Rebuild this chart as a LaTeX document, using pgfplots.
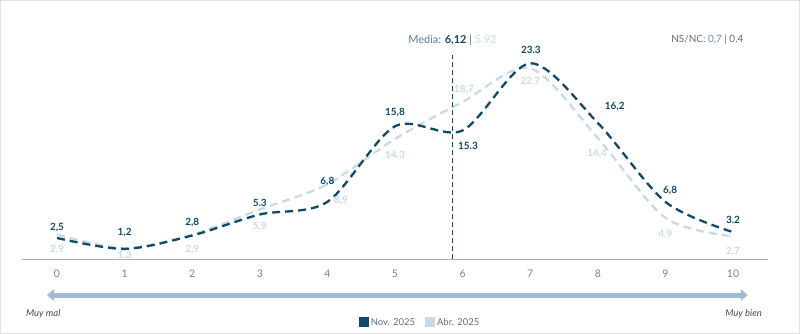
\documentclass[border=0pt]{standalone}
\usepackage{pgfplots}
\pgfplotsset{compat=1.18}
\usetikzlibrary{arrows.meta}
\usepackage{fontspec}
\setmainfont{Lato}
\definecolor{dark}{HTML}{0E4A6B}
\definecolor{light}{HTML}{C8DAE4}
\definecolor{tickgray}{HTML}{7D8190}
\definecolor{arrowblue}{HTML}{A3BAD3}
\definecolor{mediablue}{HTML}{5E7C96}
\definecolor{framegray}{HTML}{E2E2E2}
\definecolor{nsblue}{HTML}{5C8BB0}
\definecolor{txtgray}{HTML}{666A73}
\begin{document}
\begin{tikzpicture}
\useasboundingbox (-57bp,-75bp) rectangle (743bp,259bp);
\draw[framegray, line width=1bp] (-56.5bp,-74.5bp) rectangle (742.5bp,258.5bp);
\begin{axis}[
  at={(0,0)}, anchor=origin,
  x=67.6bp, y=8.4bp,
  xmin=-0.52, xmax=10.52, ymin=0, ymax=27,
  axis x line=bottom, axis y line=none,
  x axis line style={-, draw=black!32, line width=1bp},
  xtick={0,1,2,3,4,5,6,7,8,9,10},
  major tick length=0pt,
  xticklabel style={font=\fontsize{10.5}{12}\selectfont, text=tickgray, yshift=-7bp},
  /pgf/number format/assume math mode=true,
  clip=false,
  legend columns=2,
  legend style={at={(axis cs:5.37,-7.6)}, anchor=center, draw=none, fill=none,
    font=\fontsize{9.5}{11}\selectfont, text=txtgray,
    /tikz/every even column/.append style={column sep=8bp}},
  legend image code/.code={\fill[#1, draw=none] (0bp,-4bp) rectangle (10bp,6bp);},
]
\addplot[light, line width=2.3bp, dash pattern=on 8bp off 5bp, smooth, tension=0.5, forget plot]
  coordinates {(0,2.9) (1,1.3) (2,2.9) (3,5.9) (4,8.9) (5,14.3) (6,18.7) (7,22.7) (8,14.4) (9,4.9) (10,2.7)};
\addplot[dark, line width=2.3bp, dash pattern=on 8bp off 5bp, smooth, tension=0.5, forget plot]
  coordinates {(0,2.5) (1,1.2) (2,2.8) (3,5.3) (4,6.8) (5,15.8) (6,15.3) (7,23.3) (8,16.2) (9,6.8) (10,3.2)};
\addlegendimage{dark}
\addlegendentry{Nov. 2025}
\addlegendimage{light}
\addlegendentry{Abr. 2025}

\draw[dark, line width=1.3bp, dash pattern=on 5bp off 3bp] (axis cs:5.85,0) -- (axis cs:5.85,24.3);
\node[anchor=base, font=\fontsize{11}{13}\selectfont, inner sep=0pt] at (axis cs:5.85,25.6)
  {\textcolor{mediablue}{Media:} \textcolor{dark}{\textbf{6,12}} \textcolor{txtgray}{|} \textcolor{light}{5.92}};
\node[anchor=base, font=\fontsize{10}{12}\selectfont, inner sep=0pt] at (axis cs:9.62,25.8)
  {\textcolor{txtgray}{NS/NC:} \textcolor{nsblue}{0,7} \textcolor{txtgray}{| 0.4}};

\draw[arrowblue, line width=5bp, {Triangle[length=7bp,width=11bp]}-{Triangle[length=7bp,width=11bp]}]
  (axis cs:-0.15,-4.29) -- (axis cs:10.22,-4.29);
\node[anchor=base west, font=\itshape\fontsize{9.5}{11}\selectfont, text=black!70, inner sep=0pt] at (axis cs:-0.46,-6.8) {Muy mal};
\node[anchor=base east, font=\itshape\fontsize{9.5}{11}\selectfont, text=black!70, inner sep=0pt] at (axis cs:10.43,-6.9) {Muy bien};

% value labels Nov. 2025
\begin{scope}[every node/.style={font=\bfseries\fontsize{10}{12}\selectfont, text=dark, inner sep=0pt}]
\node at (axis cs:0,3.8) {2,5};
\node at (axis cs:1,3.2) {1,2};
\node at (axis cs:2,4.3) {2,8};
\node at (axis cs:3,6.7) {5.3};
\node at (axis cs:4,9.2) {6,8};
\node at (axis cs:5,17.4) {15,8};
\node at (axis cs:6.08,13.5) {15.3};
\node at (axis cs:7.01,24.9) {23.3};
\node at (axis cs:8.25,18.2) {16,2};
\node at (axis cs:9.07,8.2) {6,8};
\node at (axis cs:10,4.6) {3.2};
\end{scope}
% value labels Abr. 2025
\begin{scope}[every node/.style={font=\bfseries\fontsize{10}{12}\selectfont, text=light, inner sep=0pt}]
\node at (axis cs:0,1.1) {2,9};
\node at (axis cs:1,0.5) {1.3};
\node at (axis cs:2,1.1) {2,9};
\node at (axis cs:3,3.9) {5,9};
\node at (axis cs:4.2,7.0) {8,9};
\node at (axis cs:5,12.4) {14.3};
\node at (axis cs:6.02,20.2) {18,7};
\node at (axis cs:7,21.1) {22,7};
\node at (axis cs:7.99,12.6) {14,4};
\node at (axis cs:9,3.0) {4.9};
\node at (axis cs:10,1.0) {2.7};
\end{scope}
\end{axis}
\end{tikzpicture}
\end{document}
